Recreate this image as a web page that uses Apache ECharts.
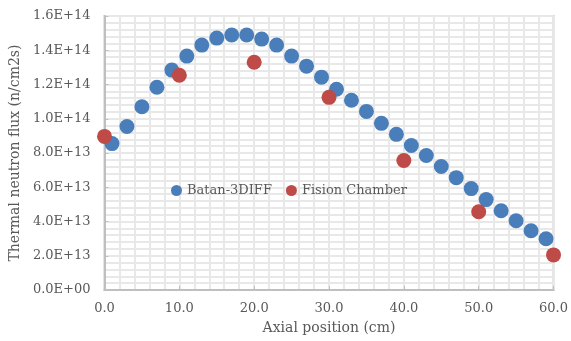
<!DOCTYPE html>
<html>
<head>
<meta charset="utf-8">
<script src="https://cdn.jsdelivr.net/npm/echarts@6/dist/echarts.min.js"></script>
<style>
  html, body { margin: 0; padding: 0; background: #fff; }
  #chart { width: 571px; height: 341px; }
</style>
</head>
<body>
<div id="chart"></div>
<script>
// 数据
const batanX = [1, 3, 5, 7, 9, 11, 13, 15, 17, 19, 21, 23, 25, 27, 29, 31, 33, 35, 37, 39, 41, 43, 45, 47, 49, 51, 53, 55, 57, 59]
const batanY = [8.55, 9.55, 10.7, 11.84, 12.84, 13.66, 14.3, 14.71, 14.89, 14.89, 14.65, 14.3, 13.66, 13.07, 12.43, 11.72, 11.08, 10.43, 9.73, 9.09, 8.44, 7.85, 7.21, 6.56, 5.92, 5.28, 4.63, 4.04, 3.46, 2.99]
const fisionX = [0, 10, 20, 30, 40, 50, 60]
const fisionY = [8.97, 12.54, 13.3, 11.25, 7.56, 4.57, 2.05]
const scale = 1e13

const font = 'DejaVu Serif'
const textColor = '#595959'

function pairs(xs, ys) {
    return xs.map((x, i) => [x, ys[i] * scale])
}

// 1.6E+14 这种格式
function sci(v) {
    if (v === 0) return '0.0E+00'
    let e = Math.floor(Math.log10(v))
    let m = v / Math.pow(10, e)
    return m.toFixed(1) + 'E+' + String(e).padStart(2, '0')
}

let myChart = echarts.init(document.getElementById('chart'))
let option = {
    backgroundColor: '#fff',
    animation: false,
    grid: {
        left: 104, right: 16, top: 16, bottom: 51,
        show: true,
        borderColor: '#c8c8c8',
        borderWidth: 2
    },
    legend: {
        left: 166, top: 179,
        icon: 'circle',
        itemWidth: 11, itemHeight: 11,
        itemGap: 14,
        textStyle: { fontFamily: font, fontSize: 13, color: textColor },
        data: ['Batan-3DIFF', 'Fision Chamber']
    },
    xAxis: {
        type: 'value',
        min: 0, max: 60, interval: 10,
        name: 'Axial position (cm)',
        nameLocation: 'middle',
        nameGap: 31,
        nameTextStyle: { fontFamily: font, fontSize: 14, color: textColor },
        axisLine: { lineStyle: { color: '#bfbfbf', width: 2 } },
        axisTick: { inside: true, length: 4, lineStyle: { color: '#bfbfbf' } },
        axisLabel: {
            fontFamily: font, fontSize: 13, color: textColor, margin: 12,
            formatter: v => v.toFixed(1)
        },
        splitLine: { show: true, lineStyle: { color: '#e8e8e8', width: 2 } },
        minorTick: { show: false, splitNumber: 5 },
        minorSplitLine: { show: true, lineStyle: { color: '#e8e8e8', width: 2 } }
    },
    yAxis: {
        type: 'value',
        min: 0, max: 1.6e14, interval: 2e13,
        name: 'Thermal neutron flux (n/cm2s)',
        nameLocation: 'middle',
        nameGap: 82,
        nameTextStyle: { fontFamily: font, fontSize: 14, color: textColor },
        axisLine: { show: true, lineStyle: { color: '#bfbfbf', width: 2 } },
        axisTick: { show: true, inside: true, length: 4, lineStyle: { color: '#bfbfbf' } },
        axisLabel: {
            fontFamily: font, fontSize: 13, color: textColor, margin: 14,
            formatter: sci
        },
        splitLine: { show: true, lineStyle: { color: '#e8e8e8', width: 2 } },
        minorTick: { show: false, splitNumber: 5 },
        minorSplitLine: { show: true, lineStyle: { color: '#e8e8e8', width: 2 } }
    },
    series: [
        {
            name: 'Batan-3DIFF',
            type: 'scatter',
            symbolSize: 15,
            itemStyle: { color: '#4a7ebb', opacity: 1 },
            data: pairs(batanX, batanY),
            z: 2
        },
        {
            name: 'Fision Chamber',
            type: 'scatter',
            symbolSize: 15,
            itemStyle: { color: '#be4b48', opacity: 1 },
            data: pairs(fisionX, fisionY),
            z: 3
        }
    ]
}
myChart.setOption(option)
</script>
</body>
</html>
